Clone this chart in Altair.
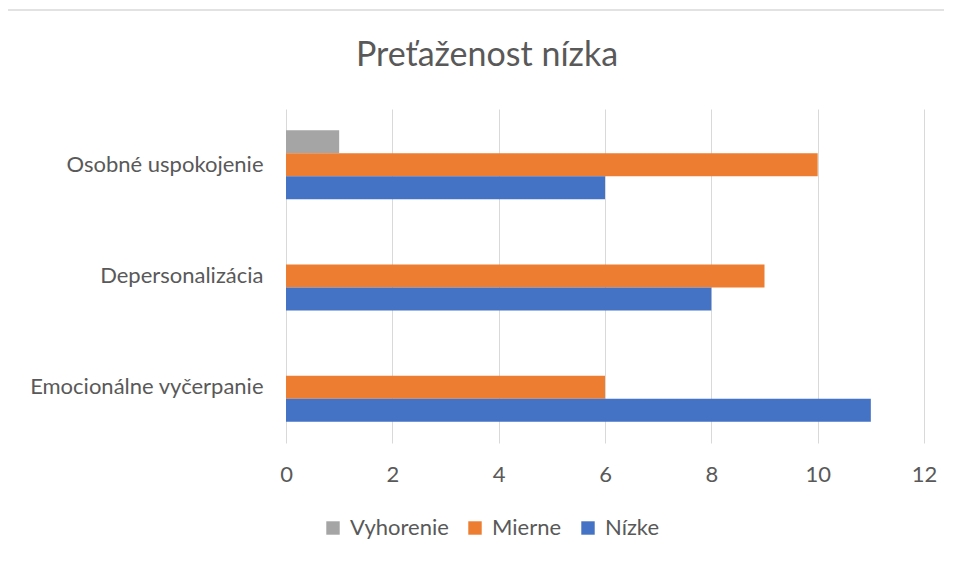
import altair as alt
import pandas as pd

categories = ["Osobné uspokojenie", "Depersonalizácia", "Emocionálne vyčerpanie"]
series = ["Vyhorenie", "Mierne", "Nízke"]
colors = ["#A5A5A5", "#ED7D31", "#4472C4"]
vyhorenie = [1, 0, 0]
mierne = [10, 9, 6]
nizke = [6, 8, 11]
x_ticks = [0, 2, 4, 6, 8, 10, 12]
title_text = "Preťaženost nízka"

rows = []
for i, c in enumerate(categories):
    for s, vals in zip(series, [vyhorenie, mierne, nizke]):
        rows.append({"kategoria": c, "seria": s, "hodnota": vals[i]})
df = pd.DataFrame(rows)

FONT = "Lato"
TXT = "#595959"

bars = alt.Chart(df).mark_bar().encode(
    y=alt.Y("kategoria:N", sort=categories, title=None,
            scale=alt.Scale(paddingInner=0.38, paddingOuter=0.19),
            axis=alt.Axis(domain=False, ticks=False, labelPadding=23, labelLimit=0,
                          labelFontSize=22, labelColor=TXT, labelFont=FONT, grid=False)),
    yOffset=alt.YOffset("seria:N", sort=series, scale=alt.Scale(paddingInner=0, paddingOuter=0)),
    x=alt.X("hodnota:Q", title=None,
            scale=alt.Scale(domain=[0, 12], nice=False),
            axis=alt.Axis(values=x_ticks, domain=False, ticks=False, labelPadding=21,
                          labelFlush=False,
                          labelFontSize=22, labelColor=TXT, labelFont=FONT,
                          grid=True, gridColor="#D9D9D9", gridWidth=1)),
    color=alt.Color("seria:N", sort=series,
                    scale=alt.Scale(domain=series, range=colors),
                    legend=alt.Legend(title=None, orient="none", direction="horizontal",
                                      legendX=36, legendY=408,
                                      symbolType="square", symbolSize=180,
                                      symbolStrokeWidth=0,
                                      labelFontSize=22, labelColor=TXT, labelFont=FONT,
                                      columnPadding=15, symbolOffset=0, labelOffset=6)),
)

top_line = alt.Chart(alt.Data(values=[{}])).mark_rule(
    color="#D9D9D9", strokeWidth=1.5
).encode(x=alt.value(-279), x2=alt.value(700), y=alt.value(-99))

left_line = alt.Chart(alt.Data(values=[{}])).mark_rule(
    color="#D9D9D9", strokeWidth=1.5
).encode(x=alt.value(-279), y=alt.value(-99), y2=alt.value(500))

title = alt.Chart(alt.Data(values=[{"t": title_text}])).mark_text(
    font=FONT, fontSize=34, color=TXT, align="center", baseline="alphabetic"
).encode(
    text="t:N", x=alt.value(201), y=alt.value(-43)
)

chart = alt.layer(top_line, left_line, bars, title).properties(
    width=638, height=334,
    autosize=alt.AutoSizeParams(type="none"),
    padding={"left": 278, "top": 101, "right": 20, "bottom": 108},
).configure_view(stroke=None)

chart.save("out.html", embed_options={"renderer": "svg", "actions": False})
